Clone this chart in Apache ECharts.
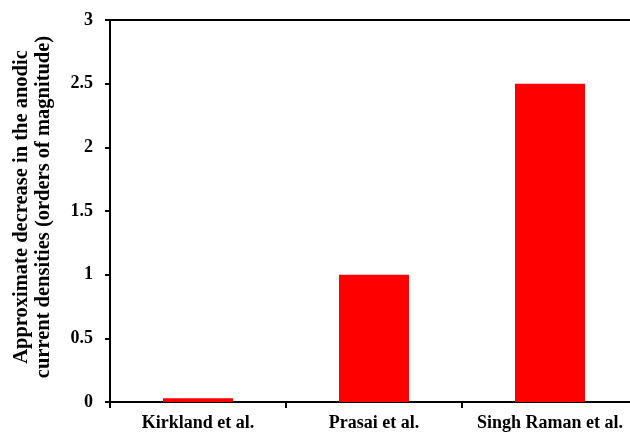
<!DOCTYPE html>
<html>
<head>
<meta charset="utf-8">
<script src="https://cdn.jsdelivr.net/npm/echarts@6/dist/echarts.min.js"></script>
<style>html,body{margin:0;padding:0;background:#fff;}#c{width:630px;height:433px;}</style>
</head>
<body>
<div id="c"></div>
<script>
const categories = ["Kirkland et al.", "Prasai et al.", "Singh Raman et al."];
const values = [0.03, 1.0, 2.5];
const yTitle = "Approximate decrease in the anodic\ncurrent densities (orders of magnitude)";

const chart = echarts.init(document.getElementById('c'));
const font = "'Liberation Serif', 'Times New Roman', serif";
chart.setOption({
  animation: false,
  grid: { left: 110, top: 20, width: 528, height: 382, outerBoundsMode: 'none', containLabel: false, show: true, borderColor: '#000', borderWidth: 2, backgroundColor: 'transparent' },
  xAxis: {
    type: 'category',
    data: categories,
    axisLine: { lineStyle: { color: '#000', width: 2 } },
    axisTick: { show: true, interval: 0, length: 6, lineStyle: { color: '#000', width: 2 } },
    axisLabel: { interval: 0, hideOverlap: false, color: '#000', fontFamily: font, fontWeight: 'bold', fontSize: 18, margin: 12 }
  },
  yAxis: {
    type: 'value',
    min: 0, max: 3, interval: 0.5,
    name: yTitle,
    nameLocation: 'middle',
    nameGap: 55,
    nameTextStyle: { color: '#000', fontFamily: font, fontWeight: 'bold', fontSize: 20.5, lineHeight: 22, padding: [0, 0, 0, 8] },
    splitLine: { show: false },
    axisLine: { show: true, lineStyle: { color: '#000', width: 2 } },
    axisTick: { show: true, length: 5, lineStyle: { color: '#000', width: 2 } },
    axisLabel: { color: '#000', fontFamily: font, fontWeight: 'bold', fontSize: 18, margin: 17 }
  },
  series: [{
    type: 'bar',
    data: values,
    barWidth: 70,
    itemStyle: { color: '#ff0000' }
  }]
});
</script>
</body>
</html>
